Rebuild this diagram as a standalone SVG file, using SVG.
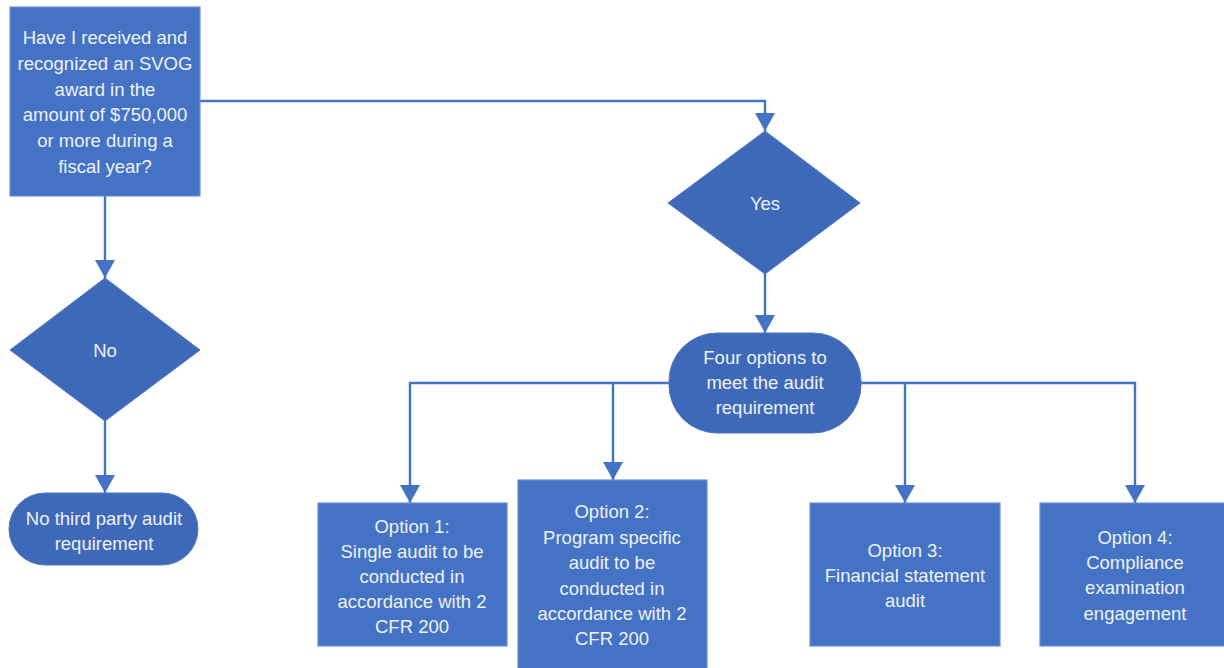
<svg xmlns="http://www.w3.org/2000/svg" width="1224" height="668" viewBox="0 0 1224 668">
<defs>
<style>
.box{fill:#4472c4;stroke:#6a8fd2;stroke-width:1.2}
.dk{fill:#3e69b8;stroke:#4e78c2;stroke-width:1}
.t{font-family:"Liberation Sans",Arial,sans-serif;font-size:18.5px;fill:#eef2fa;text-anchor:middle}
.c{fill:none;stroke:#4472c4;stroke-width:2.4}
</style>
<marker id="ah" viewBox="0 0 10 10" refX="10" refY="5" markerWidth="9" markerHeight="8" markerUnits="userSpaceOnUse" orient="auto" preserveAspectRatio="none">
<path d="M0,0 L10,5 L0,10 Z" fill="#4472c4"/>
</marker>
<marker id="a" viewBox="0 0 18 20" refX="18" refY="10" markerWidth="18" markerHeight="20" markerUnits="userSpaceOnUse" orient="auto">
<path d="M0,0 L18,10 L0,20 Z" fill="#4472c4"/>
</marker>
</defs>
<g id="connectors">
<path class="c" d="M200,101 H765 V131" marker-end="url(#a)"/>
<path class="c" d="M105,196 V278" marker-end="url(#a)"/>
<path class="c" d="M105,420 V493" marker-end="url(#a)"/>
<path class="c" d="M765,273 V333" marker-end="url(#a)"/>
<path class="c" d="M670,383 H410 V503" marker-end="url(#a)"/>
<path class="c" d="M613,383 V480" marker-end="url(#a)"/>
<path class="c" d="M860,383 H1135 V503" marker-end="url(#a)"/>
<path class="c" d="M905,383 V503" marker-end="url(#a)"/>
</g>
<g id="q">
<rect class="box" x="10" y="7" width="190" height="189"/>
<text class="t"><tspan x="105" y="44">Have I received and</tspan><tspan x="105" y="70">recognized an SVOG</tspan><tspan x="105" y="96">award in the</tspan><tspan x="105" y="121">amount of $750,000</tspan><tspan x="105" y="147">or more during a</tspan><tspan x="105" y="173">fiscal year?</tspan></text>
</g>
<g id="no">
<polygon class="dk" points="105,278 200,350 105,421 10,350"/>
<text class="t" x="105" y="357">No</text>
</g>
<g id="noaudit">
<rect class="dk" x="9" y="493" width="189" height="72" rx="36"/>
<text class="t"><tspan x="104" y="525">No third party audit</tspan><tspan x="104" y="550">requirement</tspan></text>
</g>
<g id="yes">
<polygon class="dk" points="765,131 860,203 765,274 668,203"/>
<text class="t" x="765" y="210">Yes</text>
</g>
<g id="four">
<rect class="dk" x="669" y="333" width="192" height="100" rx="48"/>
<text class="t"><tspan x="765" y="364">Four options to</tspan><tspan x="765" y="389">meet the audit</tspan><tspan x="765" y="414">requirement</tspan></text>
</g>
<g id="opt1">
<rect class="box" x="318" y="503" width="189" height="143"/>
<text class="t"><tspan x="412" y="533">Option 1:</tspan><tspan x="412" y="558">Single audit to be</tspan><tspan x="412" y="583">conducted in</tspan><tspan x="412" y="608">accordance with 2</tspan><tspan x="412" y="633">CFR 200</tspan></text>
</g>
<g id="opt2">
<rect class="box" x="518" y="480" width="189" height="192"/>
<text class="t"><tspan x="612" y="518">Option 2:</tspan><tspan x="612" y="544">Program specific</tspan><tspan x="612" y="569">audit to be</tspan><tspan x="612" y="595">conducted in</tspan><tspan x="612" y="620">accordance with 2</tspan><tspan x="612" y="645">CFR 200</tspan></text>
</g>
<g id="opt3">
<rect class="box" x="810" y="503" width="190" height="143"/>
<text class="t"><tspan x="905" y="557">Option 3:</tspan><tspan x="905" y="582">Financial statement</tspan><tspan x="905" y="607">audit</tspan></text>
</g>
<g id="opt4">
<rect class="box" x="1040" y="503" width="190" height="143"/>
<text class="t"><tspan x="1135" y="544">Option 4:</tspan><tspan x="1135" y="569">Compliance</tspan><tspan x="1135" y="594">examination</tspan><tspan x="1135" y="620">engagement</tspan></text>
</g>
</svg>
